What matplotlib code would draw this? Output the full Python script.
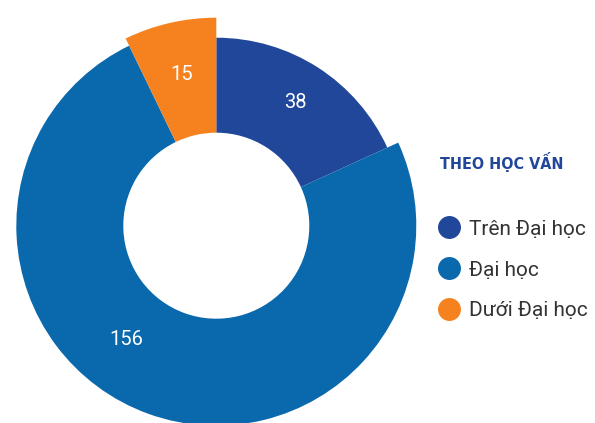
import numpy as np
import matplotlib.pyplot as plt
from matplotlib.lines import Line2D

# education breakdown
labels = ["Trên Đại học", "Đại học", "Dưới Đại học"]
values = [38, 156, 15]
colors = ["#21479a", "#0a69ad", "#f5821f"]
outer_r = [188, 200, 208]   # each slice has its own outer radius
inner_r = 93

W, H = 595, 423
fig = plt.figure(figsize=(W / 100, H / 100), dpi=100)
ax = fig.add_axes([0, 0, 1, 1])

cx, cy = 216.3, H - 225.7

# one pie call per slice so every wedge keeps its own radius
for k, r in enumerate(outer_r):
    cols = [c if i == k else "none" for i, c in enumerate(colors)]
    ax.pie(values, radius=r, center=(cx, cy), colors=cols, startangle=90,
           counterclock=False,
           wedgeprops=dict(width=r - inner_r, linewidth=0))

# value labels inside the ring
total = sum(values)
edges = np.concatenate([[0], np.cumsum(values)]) / total * 360
angle_shift = [0, 18.5, 0]
radial_shift = [6, -1, 5]
for k, v in enumerate(values):
    a = np.radians((edges[k] + edges[k + 1]) / 2 + angle_shift[k])
    rr = (outer_r[k] + inner_r) / 2 + radial_shift[k]
    ax.text(cx + rr * np.sin(a), cy + rr * np.cos(a), str(v),
            color="white", fontsize=14.5, family="Roboto",
            ha="center", va="center")

ax.set_xlim(0, W)
ax.set_ylim(0, H)
ax.set_aspect("equal")
ax.axis("off")

fig.text(440 / W, 1 - 162 / H, "THEO HỌC VẤN", color="#21479a",
         fontsize=11.5, family=["DejaVu Sans"], stretch="condensed",
         weight="bold", ha="left", va="center")

handles = [Line2D([], [], marker="o", linestyle="none", markersize=15.5,
                  markerfacecolor=c, markeredgecolor=c) for c in colors]
leg = fig.legend(handles, labels, loc="center left",
                 bbox_to_anchor=(439 / W, 1 - 270 / H),
                 frameon=False, borderpad=0, borderaxespad=0,
                 handlelength=1.0, handletextpad=0.45, labelspacing=1.05,
                 prop=dict(family="Roboto", size=15))
for t in leg.get_texts():
    t.set_color("#333333")

fig.savefig("out.png", dpi=100)
